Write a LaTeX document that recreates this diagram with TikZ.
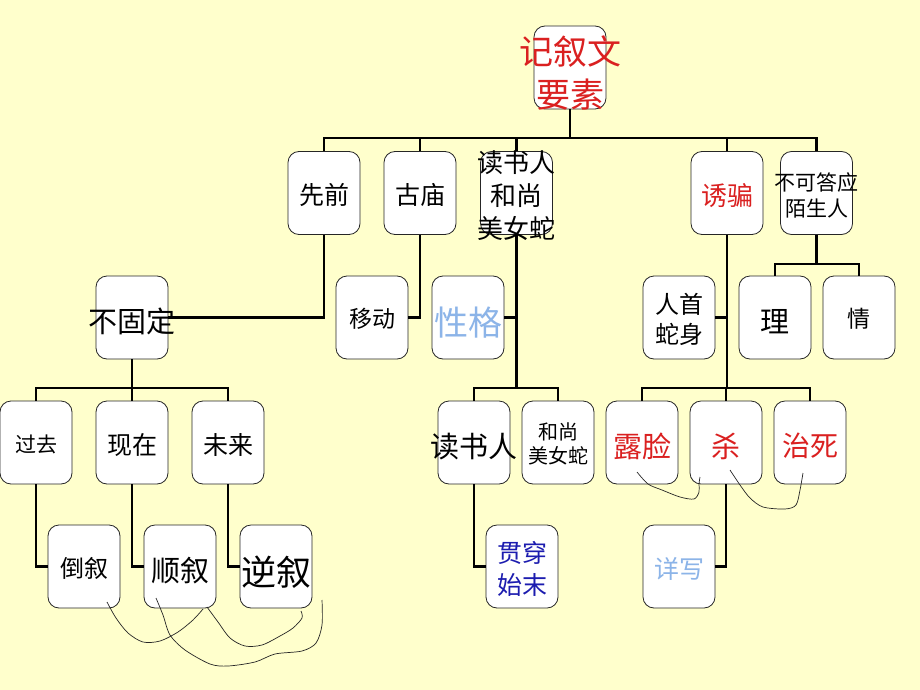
\documentclass[tikz,border=0pt]{standalone}
\usepackage{fontspec}
\setmainfont{Noto Sans CJK SC}
\newcommand{\ov}[2][-0.48em]{\raisebox{#1}[0pt][0pt]{\makebox[0pt]{\begin{tabular}{@{}c@{}}#2\end{tabular}}}}
\newcommand{\fs}[2]{\fontsize{#1}{#2}\selectfont}
\definecolor{bgyellow}{RGB}{255,255,204}
\definecolor{myred}{RGB}{218,32,32}
\definecolor{lblue}{RGB}{140,180,232}
\definecolor{dblue}{RGB}{28,28,175}
\tikzset{
  box/.style={draw=black!85, line width=0.8pt, fill=white, rounded corners=11pt,
    minimum width=72pt, minimum height=83pt, inner sep=0pt},
  conn/.style={line width=2.6pt, black},
  hand/.style={line width=0.7pt, black!85},
}
\begin{document}
\begin{tikzpicture}[x=1pt,y=-1pt]
\fill[bgyellow] (0,0) rectangle (920,690);
\useasboundingbox (0,0) rectangle (920,690);

% root
\node[box, text=myred, font=\fs{34}{43}] (root) at (570,67.5) {\ov{记叙文\\要素}};

% row 1
\node[box, font=\fs{25}{30}] (xianqian) at (324,193) {\ov{先前}};
\node[box, font=\fs{25}{30}] (gumiao) at (420,193) {\ov{古庙}};
\node[box, font=\fs{26}{33}] (dsr1) at (516.5,193) {\ov{读书人\\和尚\\美女蛇}};
\node[box, text=myred, font=\fs{26}{30}] (youpian) at (727,193) {\ov{诱骗}};
\node[box, font=\fs{21}{26}] (bkdy) at (816.5,193) {\ov{不可答应\\陌生人}};

% row 2
\node[box, font=\fs{29}{34}] (buguding) at (132,317.5) {\ov{不固定}};
\node[box, font=\fs{23}{28}] (yidong) at (372,317.5) {\ov{移动}};
\node[box, text=lblue, font=\fs{34}{40}] (xingge) at (468,317.5) {\ov{性格}};
\node[box, font=\fs{24}{30}] (rsss) at (679,317.5) {\ov{人首\\蛇身}};
\node[box, font=\fs{29}{34}] (li) at (775,317.5) {\ov{理}};
\node[box, font=\fs{23}{28}] (qing) at (859,317.5) {\ov{情}};

% row 3
\node[box, font=\fs{21}{26}] (guoqu) at (36,442.5) {\ov{过去}};
\node[box, font=\fs{25}{30}] (xianzai) at (132,442.5) {\ov{现在}};
\node[box, font=\fs{25}{30}] (weilai) at (228,442.5) {\ov{未来}};
\node[box, font=\fs{29}{34}] (dsr2) at (474,442.5) {\ov{读书人}};
\node[box, font=\fs{20}{24}] (hsmnsh) at (558,442.5) {\ov{和尚\\美女蛇}};
\node[box, text=myred, font=\fs{29}{34}] (loulian) at (642,442.5) {\ov{露脸}};
\node[box, text=myred, font=\fs{29}{34}] (sha) at (726,442.5) {\ov{杀}};
\node[box, text=myred, font=\fs{28}{34}] (zhisi) at (810,442.5) {\ov{治死}};

% row 4
\node[box, font=\fs{24}{30}] (daoxu) at (84,566.5) {\ov{倒叙}};
\node[box, font=\fs{29}{34}] (shunxu) at (180,566.5) {\ov{顺叙}};
\node[box, font=\fs{35}{40}] (nixu) at (276,566.5) {\ov{逆叙}};
\node[box, text=dblue, font=\fs{25}{32}] (gcsm) at (522,566.5) {\ov{贯穿\\始末}};
\node[box, text=lblue, font=\fs{25}{30}] (xiangxie) at (679,566.5) {\ov{详写}};

% connectors
\coordinate (b1) at (570,138);
\draw[conn] (root.south) -- (b1);
\draw[conn] (xianqian.north) |- (b1) -| (bkdy.north);
\draw[conn] (gumiao.north) -- (gumiao.north |- b1);
\draw[conn] (dsr1.north) -- (dsr1.north |- b1);
\draw[conn] (youpian.north) -- (youpian.north |- b1);

\draw[conn] (xianqian.south) |- (buguding.east);
\draw[conn] (gumiao.south) |- (yidong.east);

\coordinate (b3m) at (516.5,388);
\draw[conn] (dsr1.south) -- (b3m);
\draw[conn] (xingge.east) -- (xingge.east -| dsr1.south);
\draw[conn] (dsr2.north) |- (b3m) -| (hsmnsh.north);

\coordinate (b3r) at (727,388);
\draw[conn] (youpian.south) -- (b3r);
\draw[conn] (rsss.east) -- (rsss.east -| youpian.south);
\draw[conn] (loulian.north) |- (b3r) -| (zhisi.north);
\draw[conn] (sha.north) -- (sha.north |- b3r);

\coordinate (b2r) at (816.5,264);
\draw[conn] (bkdy.south) -- (b2r);
\draw[conn] (li.north) |- (b2r) -| (qing.north);

\coordinate (b3l) at (132,388);
\draw[conn] (buguding.south) -- (b3l);
\draw[conn] (guoqu.north) |- (b3l) -| (weilai.north);
\draw[conn] (xianzai.north) -- (b3l);

\draw[conn] (guoqu.south) |- (daoxu.west);
\draw[conn] (xianzai.south) |- (shunxu.west);
\draw[conn] (weilai.south) |- (nixu.west);
\draw[conn] (dsr2.south) |- (gcsm.west);
\draw[conn] (sha.south) |- (xiangxie.east);

% hand-drawn curves
\draw[hand] plot[smooth] coordinates {(107,602) (116,618) (128,633) (143,642) (160,641) (178,632) (193,620) (203,609)};
\draw[hand] plot[smooth] coordinates {(156,598) (163,615) (170,635) (185,650) (210,664) (228,666) (255,662) (275,654) (302,651) (316,643) (322,625) (322,600)};
\draw[hand] plot[smooth] coordinates {(207,607) (218,622) (230,638) (245,646) (262,645) (280,636) (293,628) (302,618) (301,611)};
\draw[hand] plot[smooth] coordinates {(637,472) (648,484) (662,490) (680,497) (694,499) (699,492) (699,484) (700,477)};
\draw[hand] plot[smooth] coordinates {(730,470) (740,485) (750,498) (763,507) (785,509) (796,505) (800,490) (803,473)};
\end{tikzpicture}
\end{document}
